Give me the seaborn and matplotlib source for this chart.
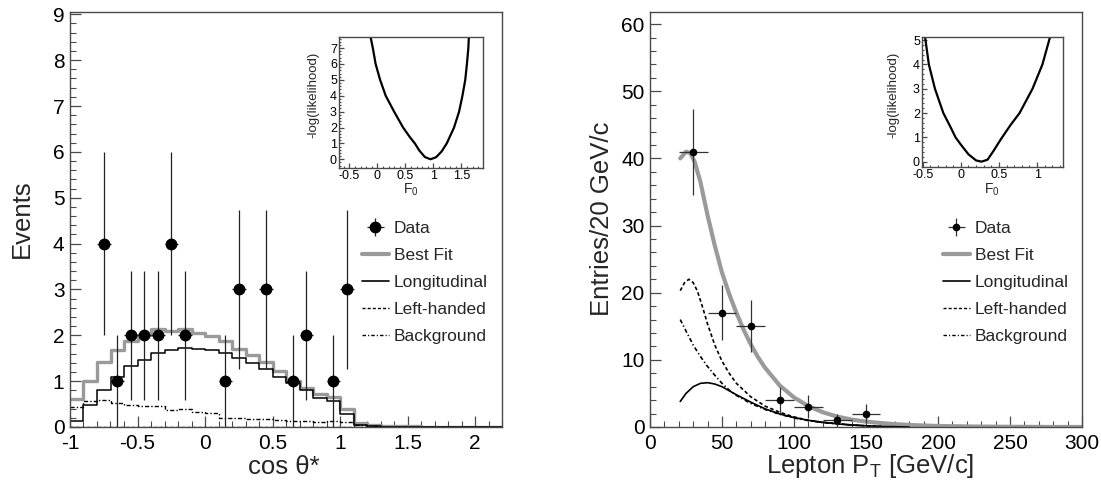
import numpy as np
import pandas as pd
import seaborn as sns
import matplotlib.pyplot as plt
from matplotlib.ticker import MultipleLocator, FuncFormatter
from matplotlib.lines import Line2D

# ---- left panel: cos theta* (bins of 0.1 from -1 to 2.2) ----
cos_edges = np.round(np.arange(-1.0, 2.21, 0.1), 2)
cos_centers = cos_edges[:-1] + 0.05
best_fit_cos = [0.6, 1.0, 1.42, 1.68, 1.88, 2.0, 2.13, 2.1, 2.13, 2.05, 1.98, 1.87,
                1.7, 1.57, 1.42, 1.22, 1.0, 0.85, 0.72, 0.65, 0.4, 0.08, 0.05, 0.03,
                0.02, 0.02, 0.01, 0.01, 0.01, 0.01, 0.01, 0.01]
long_cos = [0.13, 0.49, 0.8, 1.09, 1.33, 1.46, 1.62, 1.69, 1.73, 1.71, 1.67, 1.62,
            1.5, 1.4, 1.26, 1.08, 0.95, 0.8, 0.63, 0.56, 0.29, 0.04, 0.02, 0.01,
            0.0, 0.0, 0.0, 0.0, 0.0, 0.0, 0.0, 0.0]
left_cos = [0.01] * 22 + [0.005, 0.0, 0.0, 0.0, 0.0, 0.0, 0.0, 0.0, 0.0, 0.0]
bkg_cos = [0.44, 0.57, 0.58, 0.53, 0.47, 0.46, 0.46, 0.37, 0.39, 0.33, 0.31, 0.2,
           0.19, 0.18, 0.17, 0.16, 0.14, 0.12, 0.1, 0.12, 0.1, 0.04, 0.02, 0.01,
           0.0, 0.0, 0.0, 0.0, 0.0, 0.0, 0.0, 0.0]
data_cos_x = [-0.75, -0.65, -0.55, -0.45, -0.35, -0.25, -0.15, 0.15, 0.25, 0.45, 0.65, 0.75, 0.95, 1.05]
data_cos_y = [4, 1, 2, 2, 2, 4, 2, 1, 3, 3, 1, 2, 1, 3]
data_cos_err = [2.0, 1.0, 1.41, 1.41, 1.41, 2.0, 1.41, 1.0, 1.73, 1.73, 1.0, 1.41, 1.0, 1.73]

# left inset likelihood scan
f0_left = [-0.12, -0.08, -0.03, 0.05, 0.15, 0.30, 0.46, 0.58, 0.67, 0.75, 0.85, 0.95,
           1.05, 1.15, 1.24, 1.37, 1.46, 1.52, 1.57, 1.60, 1.625, 1.635]
nll_left = [7.7, 7.0, 6.0, 5.0, 4.0, 3.0, 2.0, 1.4, 1.0, 0.55, 0.14, 0.0,
            0.13, 0.5, 1.0, 2.0, 3.0, 4.0, 5.0, 6.0, 7.0, 7.7]

# ---- right panel: lepton pT ----
pt_data_x = [30, 50, 70, 90, 110, 130, 150]
pt_data_y = [41, 17, 15, 4, 3, 1, 2]
pt_data_err = [6.4, 4.1, 3.9, 2.0, 1.73, 1.0, 1.41]

best_fit_x = [21, 25, 28, 31, 35, 40, 45, 50, 55, 60, 65, 70, 75, 80, 90, 100, 110,
              120, 130, 140, 150, 165, 180, 200, 225, 250, 275, 300]
best_fit_y = [40.0, 41.0, 40.8, 39.5, 36.5, 31.5, 27.0, 23.0, 19.8, 17.0, 14.5, 12.3,
              10.4, 8.8, 6.2, 4.4, 3.1, 2.2, 1.55, 1.1, 0.8, 0.5, 0.3, 0.15, 0.07,
              0.03, 0.01, 0.0]
long_x = [21, 25, 30, 35, 40, 45, 50, 60, 70, 80, 90, 100, 110, 120, 130, 140, 150, 165, 180]
long_y = [3.8, 5.0, 6.0, 6.5, 6.6, 6.4, 6.0, 4.8, 3.7, 2.7, 1.95, 1.4, 1.0, 0.7,
          0.47, 0.3, 0.18, 0.07, 0.0]
lefth_x = [21, 24, 27, 30, 33, 37, 40, 45, 50, 55, 60, 70, 80, 90, 100, 110, 120, 140, 160]
lefth_y = [20.3, 21.5, 22.0, 21.5, 20.2, 17.5, 15.3, 12.2, 9.8, 8.0, 6.5, 4.5, 3.1,
           2.2, 1.5, 1.0, 0.7, 0.3, 0.05]
bkg_x = [21, 25, 30, 35, 40, 45, 50, 55, 60, 70, 80, 90, 100, 110, 120, 140, 160]
bkg_y = [16.0, 14.3, 12.2, 10.5, 9.0, 7.7, 6.5, 5.5, 4.7, 3.5, 2.6, 1.9, 1.35, 0.95,
         0.65, 0.3, 0.05]

# right inset likelihood scan
f0_right = [-0.47, -0.42, -0.34, -0.23, -0.14, -0.07, 0.0, 0.1, 0.2, 0.27, 0.35, 0.43,
            0.52, 0.65, 0.77, 0.94, 1.07, 1.17]
nll_right = [5.13, 4.0, 3.0, 2.0, 1.45, 1.0, 0.7, 0.3, 0.05, 0.0, 0.08, 0.45,
             0.9, 1.5, 2.0, 3.0, 4.0, 5.13]

sns.set_theme(style="white")
plt.rcParams['font.family'] = ['Liberation Sans', 'DejaVu Sans']
plt.rcParams['mathtext.fontset'] = 'custom'
plt.rcParams['mathtext.rm'] = 'Liberation Sans'
plt.rcParams['mathtext.it'] = 'Liberation Sans:italic'
plt.rcParams['axes.unicode_minus'] = False

W, H = 1101, 487
fig = plt.figure(figsize=(W / 100, H / 100), dpi=100)


def px_axes(x0, y0, x1, y1):
    return fig.add_axes([x0 / W, 1 - y1 / H, (x1 - x0) / W, (y1 - y0) / H])


fmt = FuncFormatter(lambda v, p: f'{v:g}')
FRAME = '#4a4a4a'
GRAY = '#9a9a9a'


def style(ax, xmaj, xmin, ymaj, ymin, size, big=True):
    for s in ax.spines.values():
        s.set_color(FRAME)
        s.set_linewidth(1.0)
    ax.xaxis.set_major_locator(MultipleLocator(xmaj))
    ax.xaxis.set_minor_locator(MultipleLocator(xmin))
    ax.yaxis.set_major_locator(MultipleLocator(ymaj))
    ax.yaxis.set_minor_locator(MultipleLocator(ymin))
    ax.xaxis.set_major_formatter(fmt)
    ax.yaxis.set_major_formatter(fmt)
    L = 8 if big else 3.5
    ax.tick_params(which='major', direction='in', length=L, width=0.9, color=FRAME,
                   labelsize=size, top=False, right=False, bottom=True, left=True,
                   pad=4 if big else 1.5, labelcolor='black')
    ax.tick_params(which='minor', direction='in', length=L * 0.5, width=0.8,
                   color=FRAME, top=False, right=False, bottom=True, left=True)
    ax.tick_params(axis='x', which='major', pad=5 if big else 1.5)
    ax.set_xlabel('')
    ax.set_ylabel('')


hist_df = pd.DataFrame({'cos': cos_centers, 'best': best_fit_cos, 'long': long_cos,
                        'left': left_cos, 'bkg': bkg_cos})
edges = list(cos_edges)

# ---------------- left main ----------------
ax1 = px_axes(70, 12, 502, 427)
sns.histplot(data=hist_df, x='cos', weights='best', bins=edges, element='step',
             fill=False, color=GRAY, linewidth=2.4, ax=ax1)
sns.histplot(data=hist_df, x='cos', weights='long', bins=edges, element='step',
             fill=False, color='black', linewidth=1.1, ax=ax1)
sns.histplot(data=hist_df, x='cos', weights='left', bins=edges, element='step',
             fill=False, color='black', linewidth=1.0, linestyle=(0, (2.5, 1.5)), ax=ax1)
sns.histplot(data=hist_df, x='cos', weights='bkg', bins=edges, element='step',
             fill=False, color='black', linewidth=1.0, linestyle=(0, (3, 1.5, 1, 1.5)), ax=ax1)
eb1 = ax1.errorbar(data_cos_x, data_cos_y, yerr=data_cos_err, xerr=0.05, fmt='o',
                   color='black', ms=7.5, elinewidth=0.9, capsize=0, ecolor='#222222')
ax1.set_xlim(-1.0, 2.2)
ax1.set_ylim(0, 9.05)
style(ax1, 0.5, 0.1, 1, 0.2, 15)

# ---------------- right main ----------------
ax2 = px_axes(650, 12, 1082, 427)
sns.lineplot(x=best_fit_x, y=best_fit_y, color=GRAY, linewidth=3.0, ax=ax2)
sns.lineplot(x=long_x, y=long_y, color='black', linewidth=1.2, ax=ax2)
sns.lineplot(x=lefth_x, y=lefth_y, color='black', linewidth=1.2,
             linestyle=(0, (2.2, 1.5)), ax=ax2)
sns.lineplot(x=bkg_x, y=bkg_y, color='black', linewidth=1.2,
             linestyle=(0, (2.5, 1.5, 0.8, 1.5)), ax=ax2)
eb2 = ax2.errorbar(pt_data_x, pt_data_y, yerr=pt_data_err, xerr=10, fmt='o',
                   color='black', ms=4.5, elinewidth=0.9, capsize=0, ecolor='#333333')
ax2.set_xlim(0, 300)
ax2.set_ylim(0, 61.8)
style(ax2, 50, 10, 10, 2, 15)

# ---------------- insets ----------------
ins1 = px_axes(339, 37, 483, 168)
sns.lineplot(x=f0_left, y=nll_left, color='black', linewidth=1.6, sort=False, ax=ins1)
ins1.set_xlim(-0.684, 1.887)
ins1.set_ylim(-0.55, 7.7)
style(ins1, 0.5, 0.1, 1, 0.2, 9, big=False)

ins2 = px_axes(922, 37, 1063, 167)
sns.lineplot(x=f0_right, y=nll_right, color='black', linewidth=1.6, sort=False, ax=ins2)
ins2.set_xlim(-0.51, 1.34)
ins2.set_ylim(-0.22, 5.13)
style(ins2, 0.5, 0.1, 1, 0.2, 9, big=False)

# ---------------- labels ----------------
fig.text(22 / W, 1 - 219 / H, 'Events', rotation=90, ha='center', va='center', fontsize=18.5)
fig.text(284 / W, 1 - 467 / H, 'cos θ*', ha='center', va='center', fontsize=18.5)
fig.text(602 / W, 1 - 219 / H, 'Entries/20 GeV/c', rotation=90, ha='center', va='center', fontsize=18.5)
fig.text(870 / W, 1 - 466 / H, r'Lepton P$_{\mathrm{T}}$ [GeV/c]', ha='center', va='center', fontsize=18.5)
for xc, yc in [(313, 95), (893, 95)]:
    fig.text(xc / W, 1 - yc / H, '-log(likelihood)', rotation=90, ha='center', va='center', fontsize=9.5)
for xc, yc in [(411, 190), (992, 190)]:
    fig.text(xc / W, 1 - yc / H, r'F$_{\mathrm{0}}$', ha='center', va='center', fontsize=10)

# ---------------- legends ----------------
labels = ['Data', 'Best Fit', 'Longitudinal', 'Left-handed', 'Background']
for ax, eb, x0 in [(ax1, eb1, 362), (ax2, eb2, 943)]:
    handles = [
        eb,
        Line2D([], [], color=GRAY, lw=3.0),
        Line2D([], [], color='black', lw=1.2),
        Line2D([], [], color='black', lw=1.0, linestyle=(0, (2.2, 1.5))),
        Line2D([], [], color='black', lw=1.0, linestyle=(0, (2.5, 1.5, 0.8, 1.5))),
    ]
    ax.legend(handles, labels, loc='upper left', bbox_to_anchor=(x0 / W, 1 - 221 / H),
              bbox_transform=fig.transFigure, frameon=False, fontsize=12.5,
              handlelength=1.55, handletextpad=0.3, labelspacing=0.68,
              borderpad=0, borderaxespad=0)

fig.savefig('out.png', dpi=100)
